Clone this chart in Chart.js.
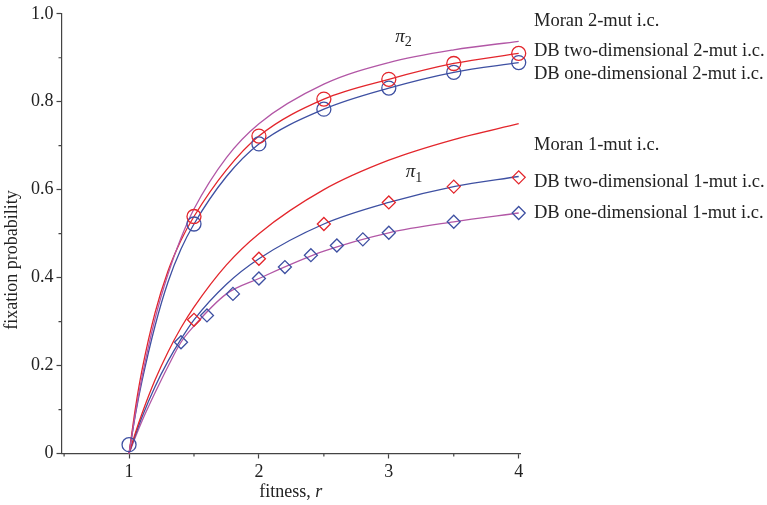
<!doctype html>
<html>
<head>
  <script src="https://cdn.jsdelivr.net/npm/chart.js@4/dist/chart.umd.min.js"></script>
  <style>
    html, body { margin: 0; padding: 0; background: #fff; }
    #wrap { width: 767px; height: 505px; }
  </style>
</head>
<body>
  <div id="wrap"><canvas id="canvas"></canvas></div>
  <script>
    // fitness values and the curves
    const rCurve = [1, 1.05, 1.1, 1.2, 1.3, 1.4, 1.5, 1.75, 2, 2.5, 3, 3.5, 4];
    const moran2 = [0, 0.093, 0.174, 0.306, 0.408, 0.49, 0.556, 0.673, 0.75, 0.84, 0.889, 0.918, 0.9375];
    const dbTwo2 = [0, 0.105, 0.19, 0.32, 0.415, 0.485, 0.539, 0.645, 0.722, 0.806, 0.851, 0.887, 0.91];
    const dbOne2 = [0, 0.09, 0.165, 0.29, 0.39, 0.465, 0.522, 0.63, 0.704, 0.783, 0.831, 0.867, 0.889];
    const moran1 = [0, 0.048, 0.091, 0.167, 0.231, 0.286, 0.333, 0.429, 0.5, 0.6, 0.667, 0.714, 0.75];
    const dbTwo1 = [0, 0.043, 0.083, 0.152, 0.21, 0.26, 0.304, 0.385, 0.443, 0.522, 0.571, 0.607, 0.63];
    const dbOne1 = [0, 0.038, 0.074, 0.138, 0.198, 0.253, 0.29, 0.363, 0.398, 0.46, 0.502, 0.527, 0.547];

    // simulation markers
    const rTwo2 = [1.5, 2, 2.5, 3, 3.5, 4];
    const simTwo2 = [0.539, 0.722, 0.806, 0.851, 0.887, 0.91];
    const rOne2 = [1, 1.5, 2, 2.5, 3, 3.5, 4];
    const simOne2 = [0.02, 0.522, 0.704, 0.783, 0.831, 0.867, 0.889];
    const rTwo1 = [1.5, 2, 2.5, 3, 3.5, 4];
    const simTwo1 = [0.304, 0.443, 0.522, 0.571, 0.607, 0.628];
    const rOne1 = [1.4, 1.6, 1.8, 2, 2.2, 2.4, 2.6, 2.8, 3, 3.5, 4];
    const simOne1 = [0.253, 0.314, 0.363, 0.398, 0.424, 0.451, 0.473, 0.487, 0.502, 0.527, 0.547];

    const seriesLabels = [
      'Moran 2-mut i.c.', 'DB two-dimensional 2-mut i.c.', 'DB one-dimensional 2-mut i.c.',
      'Moran 1-mut i.c.', 'DB two-dimensional 1-mut i.c.', 'DB one-dimensional 1-mut i.c.'
    ];

    const RED = '#e3262c', BLUE = '#3e50a2', MAG = '#b257a6';
    const FONT = '"Liberation Serif", "Times New Roman", serif';
    const pts = (xs, ys) => xs.map((x, i) => ({ x: x, y: ys[i] }));

    const line = (label, ys, color) => ({
      label: label, data: pts(rCurve, ys), showLine: true, borderColor: color, borderWidth: 1.3,
      pointRadius: 0, cubicInterpolationMode: 'monotone', fill: false, order: 2, clip: 12
    });
    const marks = (label, xs, ys, color, style) => ({
      label: label, data: pts(xs, ys), showLine: false, pointStyle: style,
      pointRadius: style === 'circle' ? 7 : 6.5, pointBorderWidth: 1.3,
      pointBorderColor: color, pointBackgroundColor: 'rgba(0,0,0,0)', order: 1, clip: 12
    });

    // labels, titles and minor ticks drawn over the chart
    const annotate = {
      id: 'annotate',
      afterDraw(chart) {
        const ctx = chart.ctx, xs = chart.scales.x, ys = chart.scales.y;
        ctx.save();
        ctx.strokeStyle = '#444';
        ctx.lineWidth = 1.2;
        ctx.beginPath();
        [0.5, 1.5, 2.5, 3.5].forEach(v => {
          const px = xs.getPixelForValue(v);
          ctx.moveTo(px, xs.top); ctx.lineTo(px, xs.top + 3);
        });
        [0.1, 0.3, 0.5, 0.7, 0.9].forEach(v => {
          const py = ys.getPixelForValue(v);
          ctx.moveTo(ys.right, py); ctx.lineTo(ys.right - 3, py);
        });
        ctx.stroke();

        ctx.fillStyle = '#222';
        ctx.textBaseline = 'middle';
        ctx.textAlign = 'left';
        ctx.font = '18.5px ' + FONT;
        const legendY = [0.983, 0.915, 0.862, 0.702, 0.618, 0.546];
        seriesLabels.forEach((t, i) => {
          ctx.fillText(t, 534, ys.getPixelForValue(legendY[i]));
        });

        // pi labels
        const pi = (sub, xv, yv) => {
          const px = xs.getPixelForValue(xv), py = ys.getPixelForValue(yv);
          ctx.font = 'italic 19px ' + FONT;
          ctx.fillText('\u03c0', px, py);
          const w = ctx.measureText('\u03c0').width;
          ctx.font = '14px ' + FONT;
          ctx.fillText(sub, px + w, py + 6);
        };
        pi('2', 3.05, 0.948);
        pi('1', 3.13, 0.64);

        // axis titles
        ctx.font = '18px ' + FONT;
        const cx = (xs.left + xs.right) / 2;
        const a = 'fitness, ', b = 'r';
        const wa = ctx.measureText(a).width;
        ctx.font = 'italic 18px ' + FONT;
        const wb = ctx.measureText(b).width;
        const x0 = cx - (wa + wb) / 2;
        ctx.font = '18px ' + FONT;
        ctx.fillText(a, x0, 492);
        ctx.font = 'italic 18px ' + FONT;
        ctx.fillText(b, x0 + wa, 492);

        ctx.font = '18px ' + FONT;
        ctx.translate(12, ys.getPixelForValue(0.44));
        ctx.rotate(-Math.PI / 2);
        ctx.textAlign = 'center';
        ctx.fillText('fixation probability', 0, 0);
        ctx.restore();
      }
    };

    new Chart(document.getElementById('canvas'), {
      type: 'scatter',
      data: {
        datasets: [
          line(seriesLabels[0], moran2, MAG),
          line(seriesLabels[1], dbTwo2, RED),
          line(seriesLabels[2], dbOne2, BLUE),
          line(seriesLabels[3], moran1, RED),
          line(seriesLabels[4], dbTwo1, BLUE),
          line(seriesLabels[5], dbOne1, MAG),
          marks(seriesLabels[1], rTwo2, simTwo2, RED, 'circle'),
          marks(seriesLabels[2], rOne2, simOne2, BLUE, 'circle'),
          marks(seriesLabels[4], rTwo1, simTwo1, RED, 'rectRot'),
          marks(seriesLabels[5], rOne1, simOne1, BLUE, 'rectRot')
        ]
      },
      options: {
        responsive: true,
        maintainAspectRatio: false,
        animation: false,
        layout: { padding: { top: 10, right: 247, left: 0, bottom: 0 } },
        plugins: { legend: { display: false }, tooltip: { enabled: false } },
        scales: {
          x: {
            type: 'linear', min: 0.48, max: 4.01,
            afterFit: s => { s.height = 51.5; },
            border: { display: true, color: '#444', width: 1.2 },
            grid: {
              drawOnChartArea: false, tickLength: 5, tickWidth: 1.2,
              tickColor: c => Number.isInteger(c.tick.value) ? '#444' : 'rgba(0,0,0,0)'
            },
            ticks: {
              stepSize: 0.5, includeBounds: false, padding: 3, color: '#222', maxRotation: 0,
              autoSkip: false, font: { family: FONT, size: 18 },
              callback: v => Number.isInteger(v) ? String(v) : ''
            }
          },
          y: {
            type: 'linear', min: 0, max: 1,
            afterFit: s => { s.width = 61.5; },
            border: { display: true, color: '#444', width: 1.2 },
            grid: {
              drawOnChartArea: false, tickLength: 5, tickWidth: 1.2,
              tickColor: c => Math.round(c.tick.value * 10) % 2 === 0 ? '#444' : 'rgba(0,0,0,0)'
            },
            ticks: {
              stepSize: 0.1, padding: 3, color: '#222', autoSkip: false,
              font: { family: FONT, size: 18 },
              callback: v => {
                const k = Math.round(v * 10);
                if (k % 2) return '';
                return k === 0 ? '0' : (k / 10).toFixed(1);
              }
            }
          }
        }
      },
      plugins: [annotate]
    });
  </script>
</body>
</html>
